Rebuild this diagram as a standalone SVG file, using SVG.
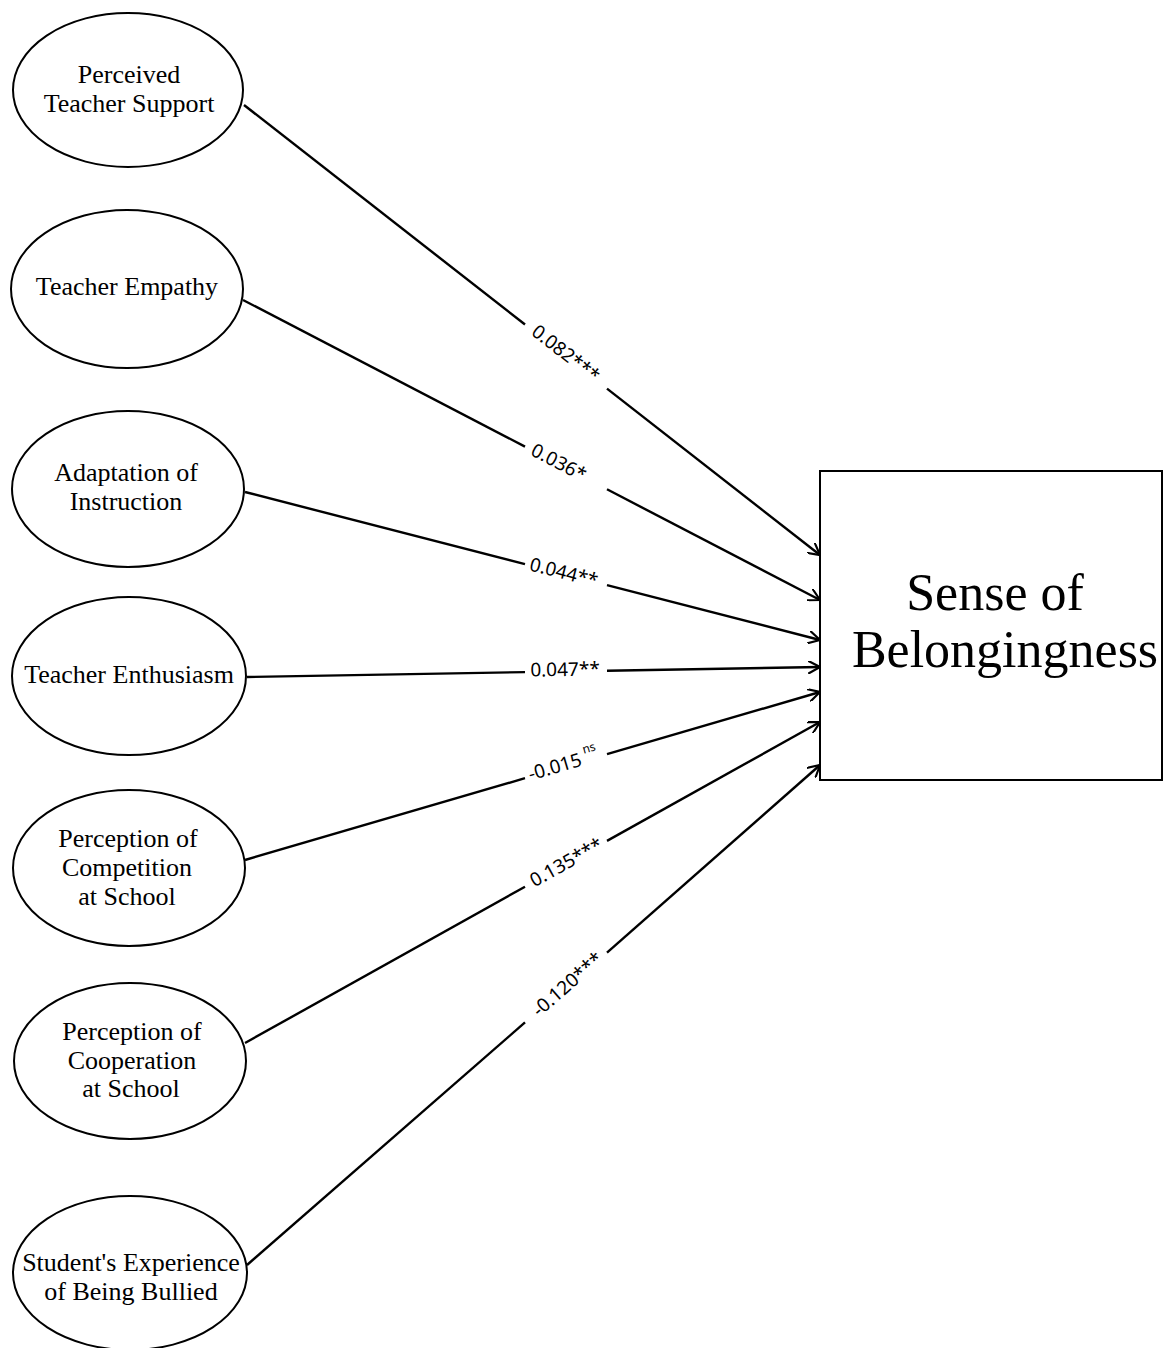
<svg xmlns="http://www.w3.org/2000/svg" width="1163" height="1348" viewBox="0 0 1163 1348">
<style>
.node ellipse{fill:#fff;stroke:#000;stroke-width:2}
.node text{font-family:"Liberation Serif","Times New Roman",serif;font-size:26px;fill:#000;text-anchor:middle}
.edge line{stroke:#000;stroke-width:2.4;fill:none}
.lbl{font-family:"Noto Sans","Open Sans",sans-serif;font-size:19px;fill:#000;text-anchor:middle;dominant-baseline:central}
.sup{font-size:12px}
.big{font-family:"Liberation Serif","Times New Roman",serif;font-size:52px;fill:#000;text-anchor:middle}
</style>
<defs>
<marker id="arr" viewBox="0 0 12 12" refX="11" refY="6" markerWidth="13" markerHeight="13" markerUnits="userSpaceOnUse" orient="auto">
<path d="M0,0 L11,6 L0,12" fill="none" stroke="#000" stroke-width="2"/>
</marker>
</defs>
<rect width="1163" height="1348" fill="#fff"/>

<g id="connectors" class="edge">
<line x1="244" y1="105" x2="525" y2="324.5"/>
<line x1="607" y1="388.6" x2="820" y2="555" marker-end="url(#arr)"/>
<line x1="243" y1="300" x2="525" y2="446.6"/>
<line x1="607" y1="489.3" x2="820" y2="600" marker-end="url(#arr)"/>
<line x1="245" y1="492" x2="525" y2="564.1"/>
<line x1="607" y1="585.2" x2="820" y2="640" marker-end="url(#arr)"/>
<line x1="247" y1="677" x2="525" y2="672.1"/>
<line x1="607" y1="670.7" x2="820" y2="667" marker-end="url(#arr)"/>
<line x1="245" y1="860" x2="525" y2="778.2"/>
<line x1="607" y1="754.2" x2="820" y2="692" marker-end="url(#arr)"/>
<line x1="245" y1="1043" x2="525" y2="886.7"/>
<line x1="607" y1="840.9" x2="820" y2="722" marker-end="url(#arr)"/>
<line x1="247" y1="1265" x2="525" y2="1022.4"/>
<line x1="607" y1="952.6" x2="820" y2="765" marker-end="url(#arr)"/>
</g>

<g id="edge-labels">
<text class="lbl" transform="translate(566,353) rotate(38)">0.082***</text>
<text class="lbl" transform="translate(559,462) rotate(27.5)">0.036*</text>
<text class="lbl" transform="translate(564,572) rotate(14.4)">0.044**</text>
<text class="lbl" transform="translate(565,669) rotate(-1)">0.047**</text>
<text class="lbl" transform="translate(563,764) rotate(-16.3)">-0.015<tspan class="sup" dx="4" dy="-9">ns</tspan></text>
<text class="lbl" transform="translate(566,862) rotate(-29.2)">0.135***</text>
<text class="lbl" transform="translate(567,984) rotate(-41.1)">-0.120***</text>
</g>

<g id="n1" class="node">
<ellipse cx="128" cy="90" rx="115" ry="77"/>
<text x="129" y="83">Perceived</text>
<text x="129" y="112">Teacher Support</text>
</g>
<g id="n2" class="node">
<ellipse cx="127" cy="289" rx="116" ry="79"/>
<text x="127" y="295">Teacher Empathy</text>
</g>
<g id="n3" class="node">
<ellipse cx="128" cy="489" rx="116" ry="78"/>
<text x="126" y="481">Adaptation of</text>
<text x="126" y="510">Instruction</text>
</g>
<g id="n4" class="node">
<ellipse cx="129" cy="676" rx="117" ry="79"/>
<text x="129" y="683">Teacher Enthusiasm</text>
</g>
<g id="n5" class="node">
<ellipse cx="129" cy="868" rx="116" ry="78"/>
<text x="128" y="847">Perception of</text>
<text x="127" y="876">Competition</text>
<text x="127" y="905">at School</text>
</g>
<g id="n6" class="node">
<ellipse cx="130" cy="1061" rx="116" ry="78"/>
<text x="132" y="1040">Perception of</text>
<text x="132" y="1069">Cooperation</text>
<text x="131" y="1097">at School</text>
</g>
<g id="n7" class="node">
<ellipse cx="130" cy="1273" rx="117" ry="77"/>
<text x="131" y="1271">Student's Experience</text>
<text x="131" y="1300">of Being Bullied</text>
</g>

<g id="target">
<rect x="820" y="471" width="342" height="309" fill="#fff" stroke="#000" stroke-width="2"/>
<text class="big" x="995" y="610">Sense of</text>
<text class="big" x="1005" y="667">Belongingness</text>
</g>
</svg>
